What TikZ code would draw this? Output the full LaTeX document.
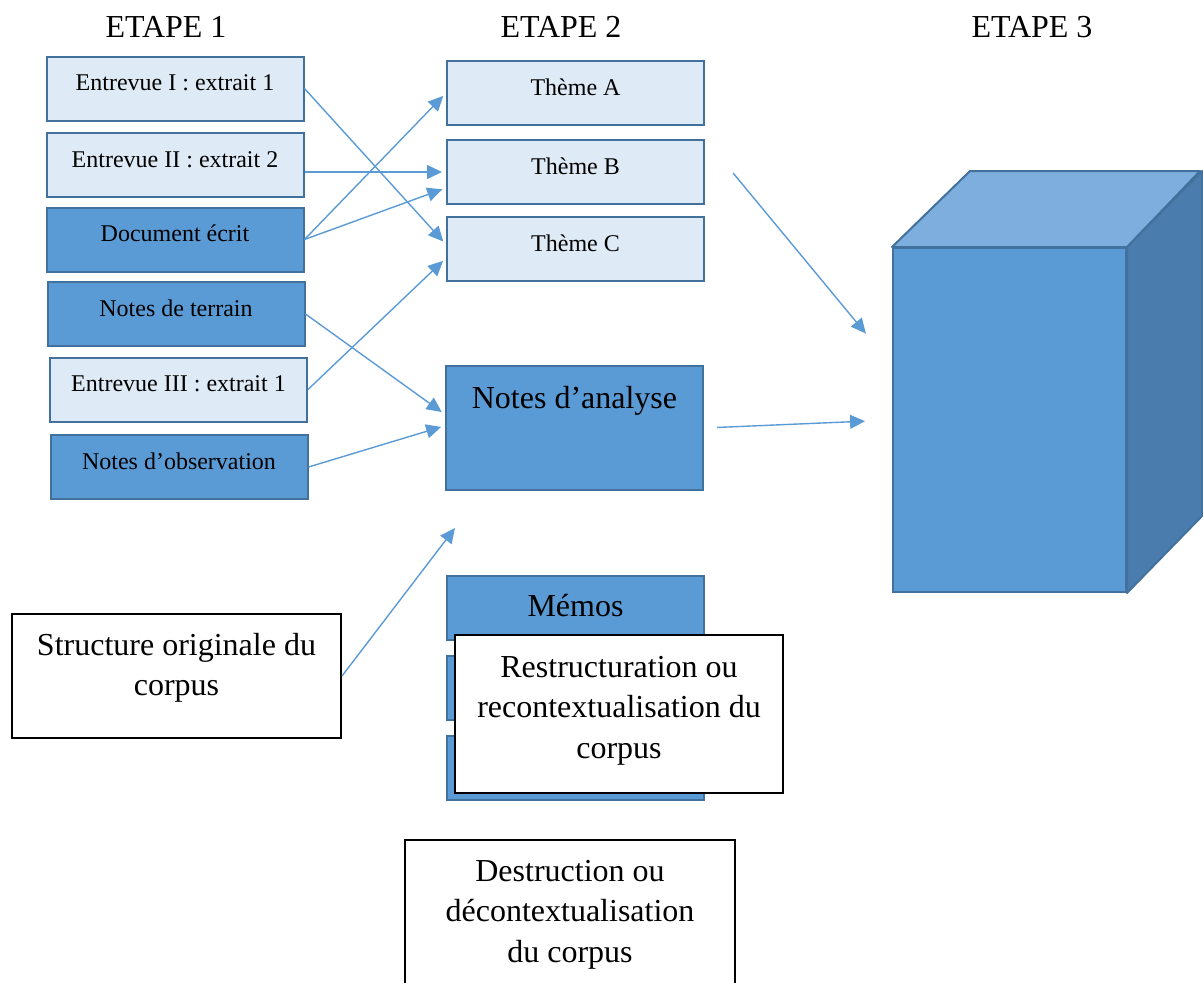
\documentclass[tikz,border=0pt]{standalone}
\usepackage{fontspec}
\setmainfont{Liberation Serif}
\usetikzlibrary{arrows.meta}
\definecolor{paleblue}{HTML}{DEEBF7}
\definecolor{midblue}{HTML}{5B9BD5}
\definecolor{edgeblue}{HTML}{41719C}
\definecolor{topblue}{HTML}{7DAEDD}
\definecolor{sideblue}{HTML}{4A7CAD}
\tikzstyle{source_box}=[rectangle,
                        minimum width=128.5pt,
                        minimum height=32pt,
                        inner sep=0pt,
                        text height=17pt,
                        text depth=15pt,
                        draw=edgeblue,
                        line width=1pt,
                        font=\fontsize{12}{14}\selectfont]
\tikzstyle{big_box}=[source_box,
                     fill=midblue,
                     font=\fontsize{16}{20}\selectfont]
\tikzstyle{note_box}=[rectangle,
                      draw=black,
                      line width=1pt,
                      fill=white,
                      inner sep=0pt,
                      minimum width=164.5pt,
                      text width=164.5pt,
                      align=flush center,
                      font=\fontsize{16}{20.3}\selectfont]
\tikzstyle{link}=[draw=midblue,
                  line width=0.7pt,
                  shorten >=2pt,
                  -{Triangle[length=7.5pt,width=7pt]}]

\begin{document}
\begin{tikzpicture}[x=0.5pt, y=-0.5pt]
  \useasboundingbox (0, 0) rectangle (1203, 982);

  \node at (166, 27) (H1) [font=\fontsize{16}{20}\selectfont] {ETAPE 1};
  \node at (561, 27) (H2) [font=\fontsize{16}{20}\selectfont] {ETAPE 2};
  \node at (1032, 27) (H3) [font=\fontsize{16}{20}\selectfont] {ETAPE 3};

  % etape 1
  \node at (175, 88.5) (E1) [source_box, fill=paleblue] {Entrevue I : extrait 1};
  \node at (175, 165) (E2) [source_box, fill=paleblue] {Entrevue II : extrait 2};
  \node at (175, 239.5) (D) [source_box, fill=midblue] {Document écrit};
  \node at (176, 314) (NT) [source_box, fill=midblue] {Notes de terrain};
  \node at (178.5, 389.5) (E3) [source_box, fill=paleblue] {Entrevue III : extrait 1};
  \node at (179, 467) (NO) [source_box, fill=midblue] {Notes d’observation};

  % etape 2
  \node at (575.5, 93) (TA) [source_box, fill=paleblue] {Thème A};
  \node at (575.5, 172) (TB) [source_box, fill=paleblue] {Thème B};
  \node at (575.5, 249) (TC) [source_box, fill=paleblue] {Thème C};
  \node at (574.5, 428) (NA) [big_box, minimum height=62pt,
                              text height=21pt, text depth=41pt] {Notes d’analyse};
  \node at (575.5, 608) (MM) [big_box, text height=20pt, text depth=12pt] {Mémos};
  \node at (575.5, 688) (R1) [big_box] {};
  \node at (575.5, 767.5) (R2) [big_box] {};

  \node at (619, 714) (RC) [note_box, minimum width=164pt, text width=164pt,
                            text height=21pt, text depth=58pt]
        {Restructuration ou\\recontextualisation du\\corpus};
  \node at (176.5, 676) (SO) [note_box, text height=20.5pt, text depth=41.5pt]
        {Structure originale du\\corpus};
  \node at (570, 920) (DC) [note_box, minimum width=165pt, text width=165pt,
                            text height=20.5pt, text depth=59.5pt]
        {Destruction ou\\décontextualisation\\du corpus};

  % etape 3
  \node at (1009.5, 420) (C) [rectangle, minimum width=116.5pt, minimum height=172pt,
                              draw=edgeblue, line width=1pt, fill=midblue] {};
  \draw[draw=edgeblue, line width=1pt, fill=topblue, line join=round]
    (C.north west) -- ++(78, -76) -- ++(230, 0) -- (C.north east) -- cycle;
  \draw[draw=edgeblue, line width=1pt, fill=sideblue, line join=round]
    (C.north east) -- ++(75, -76) -- ++(0, 345) -- (C.south east) -- cycle;

  \coordinate (S) at (455, 528);

  \draw[link] (E1.east) -- (TC.178);
  \draw[link] (E2.east |- TB.west) -- (TB.west);
  \draw[link] (D.east) -- (TA.west);
  \draw[link] (D.east) -- (TB.187);
  \draw[link] (E3.east) -- (TC.184);
  \draw[link] (NT.east) -- (NA.174);
  \draw[link] (NO.east) -- (NA.179);
  \draw[link, shorten >=0pt] (SO.east) -- (S);
  \draw[link, shorten <=22pt, shorten >=20.5pt] (TB.north east) -- (C.155.5);
  \draw[link, shorten <=6.5pt, shorten >=13.5pt] (NA.east) -- (C.west);
  \end{tikzpicture}
\end{document}
